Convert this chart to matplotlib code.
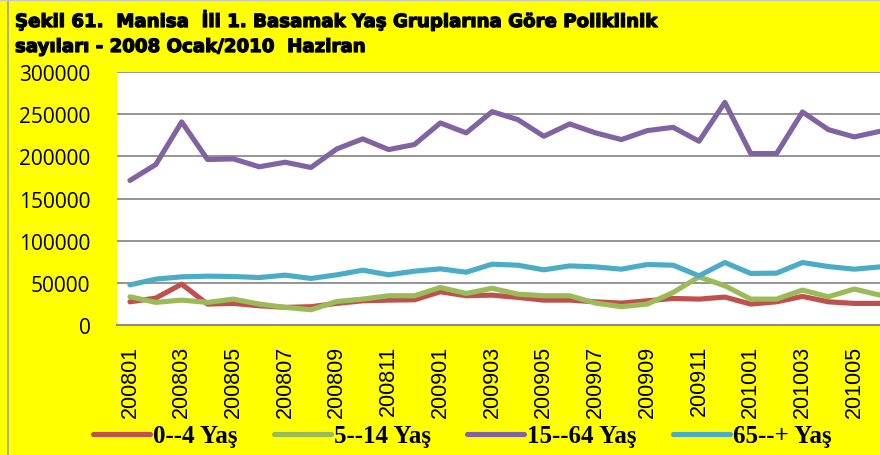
import matplotlib
matplotlib.use("Agg")
import matplotlib.pyplot as plt
import matplotlib.patheffects as pe
from matplotlib.lines import Line2D

# Monthly polyclinic counts by age group, January 2008 - June 2010
months = [
    "200801", "200802", "200803", "200804", "200805", "200806",
    "200807", "200808", "200809", "200810", "200811", "200812",
    "200901", "200902", "200903", "200904", "200905", "200906",
    "200907", "200908", "200909", "200910", "200911", "200912",
    "201001", "201002", "201003", "201004", "201005", "201006",
]

age_0_4 = [
    27500, 31900, 48500, 24800, 25600, 22800, 20900, 21700, 25600, 28700,
    29500, 29900, 39400, 34700, 35400, 32700, 29500, 29500, 27500, 26000,
    28700, 31500, 30700, 33100, 24800, 27500, 33900, 27500, 25600, 25600,
]
age_5_14 = [
    33500, 26800, 29500, 26800, 30700, 24800, 20900, 18100, 27900, 30700,
    34700, 34700, 44500, 37400, 43500, 36600, 34700, 34700, 26000, 21700,
    24800, 38600, 57100, 46500, 30700, 30700, 41400, 33500, 42600, 35400,
]
age_15_64 = [
    171400, 190300, 240800, 196200, 197000, 187600, 193000, 186800, 208800, 220700,
    208000, 214000, 239600, 227800, 253000, 243500, 223800, 238400, 227800, 219900,
    230500, 234400, 217900, 264000, 203300, 203300, 252600, 231700, 223000, 229700,
]
age_65_plus = [
    47600, 54400, 57100, 57900, 57500, 56300, 59100, 55200, 59500, 65000,
    59500, 63800, 66600, 62600, 72100, 70900, 65400, 70100, 68900, 66200,
    71700, 70900, 58300, 74100, 61100, 61500, 74100, 69300, 66200, 68900,
]

series_labels = ["0--4 Yaş", "5--14 Yaş", "15--64 Yaş", "65--+ Yaş"]
series_values = [age_0_4, age_5_14, age_15_64, age_65_plus]
series_colors = ["#C0504D", "#9BBB59", "#8064A2", "#4BACC6"]

yticks = [0, 50000, 100000, 150000, 200000, 250000, 300000]

title_lines = [
    "Şekil 61.  Manisa  İli 1. Basamak Yaş Gruplarına Göre Poliklinik",
    "sayıları - 2008 Ocak/2010  Haziran",
]

W, H = 880, 456
fig = plt.figure(figsize=(W / 100, H / 100), dpi=100, facecolor="#FFFF00")

# plot area (runs past the right edge of the canvas)
ax = fig.add_axes([117 / W, 1 - 326 / H, 776 / W, 253 / H])
ax.set_facecolor("white")

x = list(range(len(months)))
for vals, col in zip(series_values, series_colors):
    ax.plot(x, vals, color=col, lw=3.7, solid_capstyle="round",
            solid_joinstyle="round", zorder=3)

ax.set_xlim(-0.5, len(months) - 0.5)
ax.set_ylim(0, 300000)
ax.set_yticks(yticks)
ax.set_yticklabels([str(v) for v in yticks], fontsize=15,
                   fontfamily="Open Sans")
ax.yaxis.grid(True, color="#8C8C8C", lw=1.3, zorder=1)
ax.set_axisbelow(True)

ax.set_xticks(x[::2])
ax.set_xticklabels(months[::2], rotation=90, fontsize=15.5,
                   fontfamily="Liberation Sans", va="top", ha="center")
ax.tick_params(axis="both", length=0)
ax.tick_params(axis="y", pad=19)
ax.tick_params(axis="x", pad=14)

for side in ("left", "right", "top"):
    ax.spines[side].set_visible(False)
ax.spines["bottom"].set_color("#8C8C8C")
ax.spines["bottom"].set_linewidth(1.5)

# title
title_fx = [pe.withStroke(linewidth=0.9, foreground="black")]
for i, line in enumerate(title_lines):
    fig.text(15 / W, 1 - (28 + 25 * i) / H, line, fontsize=13.1,
             fontweight="bold", fontfamily="DejaVu Sans", color="black",
             ha="left", va="baseline", path_effects=title_fx)

# legend
handles = [Line2D([], [], color=c, lw=3.7, solid_capstyle="round")
           for c in series_colors]
leg = fig.legend(handles, series_labels, loc="center", ncol=4,
                 bbox_to_anchor=(462 / W, 1 - 437 / H), frameon=False,
                 prop={"family": "Liberation Serif", "weight": "bold",
                       "size": 18},
                 handlelength=2.3, handletextpad=0.1, columnspacing=1.45,
                 borderaxespad=0)

# thin border on the left and top of the canvas
fig.add_artist(Line2D([7.5 / W, 7.5 / W], [0, 1], color="#A0A0A0", lw=1.2,
                      transform=fig.transFigure))
fig.add_artist(Line2D([0, 1], [1 - 0.8 / H, 1 - 0.8 / H], color="#C8C8C8",
                      lw=1.0, transform=fig.transFigure))

fig.savefig("out.png", dpi=100, facecolor=fig.get_facecolor())
